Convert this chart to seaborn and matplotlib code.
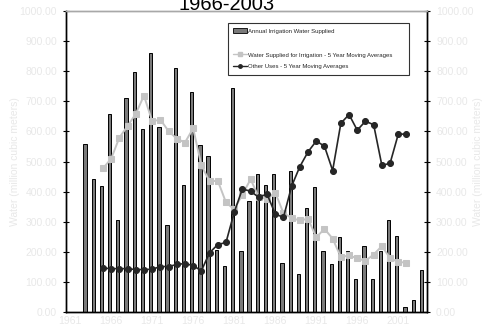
import numpy as np
import seaborn as sns
import matplotlib.pyplot as plt
import matplotlib.lines as mlines
import matplotlib.patches as mpatches

sns.set_style('white')
plt.rcParams['font.family'] = ['Liberation Sans', 'DejaVu Sans']

# annual irrigation water supplied, 1963-2004
bar_years = list(range(1963, 2005))
irrigation = [559, 441, 417, 657, 304, 711, 797, 609, 861, 613,
              288, 811, 421, 730, 556, 517, 206, 154, 744, 203,
              370, 458, 422, 459, 163, 467, 127, 347, 416, 203,
              158, 249, 201, 110, 219, 110, 203, 307, 253, 18,
              39, 138]

# 5 year moving averages, 1965-2002
ma_years = list(range(1965, 2003))
irrigation_ma = [477, 509, 579, 618, 658, 719, 634, 639, 601, 576, 563,
                 610, 487, 434, 436, 364, 341, 390, 441, 381, 376, 397,
                 329, 312, 304, 310, 248, 276, 244, 182, 188, 178, 170,
                 191, 219, 179, 166, 164]
other_ma = [146, 144, 144, 144, 141, 141, 142, 151, 151, 158, 161,
            154, 137, 197, 224, 231, 331, 409, 401, 381, 392, 326,
            314, 418, 483, 532, 568, 551, 470, 627, 656, 604, 634,
            622, 487, 494, 591, 591]

label_years = [1961, 1966, 1971, 1976, 1981, 1986, 1991, 1996, 2001]
y_ticks = np.arange(0, 1001, 100)

faint = '#e8e8e8'

fig = plt.figure(figsize=(4.83, 3.27), dpi=100)
ax = fig.add_axes([66 / 483, 15 / 327, 361 / 483, 301 / 327])

bar_x = np.array(bar_years) - 0.18
sns.barplot(x=bar_x, y=irrigation, native_scale=True, width=0.4,
            color='#7a7a7a', saturation=1, edgecolor='black',
            linewidth=0.7, ax=ax)
sns.lineplot(x=ma_years, y=irrigation_ma, color='#c4c4c4', linewidth=1.4,
             marker='s', markersize=4.3, markeredgecolor='#c4c4c4', ax=ax)
sns.lineplot(x=ma_years, y=other_ma, color='#262626', linewidth=1.2,
             marker='o', markersize=4.3, markeredgecolor='#262626', ax=ax)

ax.set_xlim(1960.5, 2004.5)
ax.set_ylim(0, 1000)
ax.set_xticks(np.arange(1960.5, 2005, 1))
ax.set_xticklabels([])
ax.set_xticks(label_years, minor=True)
ax.set_xticklabels([str(y) for y in label_years], minor=True)
ax.tick_params(axis='x', which='major', direction='inout', length=5,
               width=0.8, color='black')
ax.tick_params(axis='x', which='minor', length=0, pad=3, labelsize=7.5,
               labelcolor=faint)
ax.set_yticks(y_ticks)
ax.set_yticklabels([f'{v:.2f}' for v in y_ticks])
ax.tick_params(axis='y', direction='inout', length=5, width=0.8,
               color='black', labelsize=7.5, labelcolor=faint, pad=4)
ax.set_xlabel('')
ax.set_ylabel('')

ax2 = ax.twinx()
ax2.set_ylim(0, 1000)
ax2.set_yticks(y_ticks)
ax2.set_yticklabels([f'{v:.2f}' for v in y_ticks])
ax2.tick_params(axis='y', direction='inout', length=5, width=0.8,
                color='black', labelsize=7.5, labelcolor=faint, pad=4)

for a in (ax, ax2):
    for side in ('left', 'right', 'bottom'):
        a.spines[side].set_color('black')
        a.spines[side].set_linewidth(1.0)
    a.spines['top'].set_color('#a8a8a8')
    a.spines['top'].set_linewidth(1.0)

fig.text(15 / 483, 1 - 162 / 327, 'Water (million cubic meters)',
         rotation=90, ha='center', va='center', fontsize=7.5, color=faint)
fig.text(478 / 483, 1 - 162 / 327, 'Water (million cubic meters)',
         rotation=90, ha='center', va='center', fontsize=7.5, color=faint)

fig.text(227 / 483, 1 - 9.5 / 327, '1966-2003', ha='center',
         va='baseline', fontsize=14.5, color='black')

handles = [
    mpatches.Patch(facecolor='#7a7a7a', edgecolor='black', linewidth=0.6),
    mlines.Line2D([], [], color='none'),
    mlines.Line2D([], [], color='#c4c4c4', marker='s', markersize=2.5,
                  linewidth=1),
    mlines.Line2D([], [], color='#262626', marker='o', markersize=2.5,
                  linewidth=1),
]
labels = ['Annual Irrigation Water Supplied', '',
          'Water Supplied for Irrigation - 5 Year Moving Averages',
          'Other Uses - 5 Year Moving Averages']
leg = ax2.legend(handles, labels, loc='upper left',
                 bbox_to_anchor=(0.449, 0.787, 0.501, 0.173), mode='expand',
                 borderaxespad=0, fontsize=4.3, frameon=True, fancybox=False,
                 edgecolor='black', handlelength=2.2, handleheight=0.9,
                 handletextpad=0.3, labelspacing=1.05, borderpad=0.9)
leg.get_frame().set_linewidth(0.8)

fig.savefig('out.png', dpi=100)
